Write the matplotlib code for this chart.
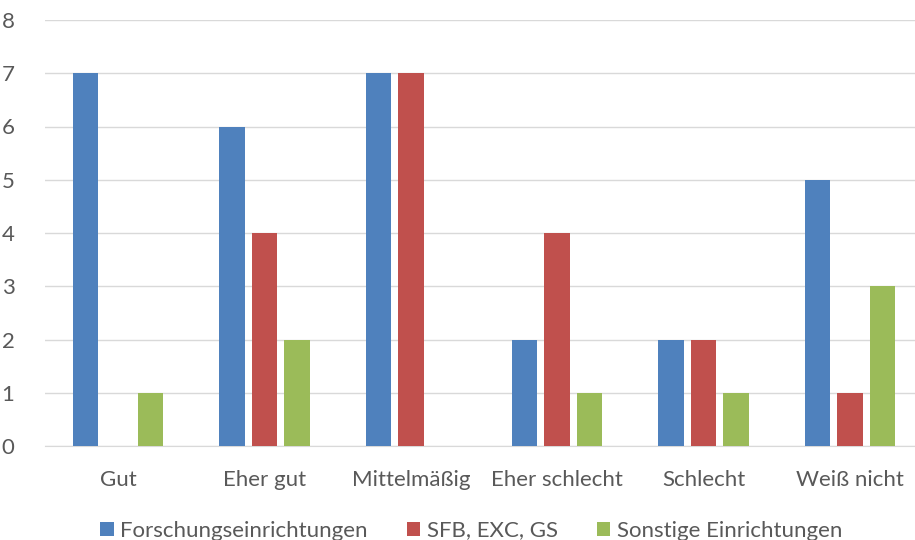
import matplotlib.pyplot as plt
import numpy as np

categories = ['Gut', 'Eher gut', 'Mittelmäßig', 'Eher schlecht', 'Schlecht', 'Weiß nicht']
forschung = [7, 6, 7, 2, 2, 5]
sfb = [0, 4, 7, 4, 2, 1]
sonstige = [1, 2, 0, 1, 1, 3]
series_names = ['Forschungseinrichtungen', 'SFB, EXC, GS', 'Sonstige Einrichtungen']
colors = ['#4F81BD', '#C0504D', '#9BBB59']

plt.rcParams['font.family'] = ['Lato', 'DejaVu Sans']
text_color = '#595959'

fig = plt.figure(figsize=(9.15, 5.4), dpi=100)
ax = fig.add_axes([45 / 915, 1 - 446 / 540, 878 / 915, 426 / 540])

x = np.arange(len(categories))
w = 0.175
step = 0.222
for i, (vals, name) in enumerate(zip([forschung, sfb, sonstige], series_names)):
    ax.bar(x + (i - 1) * step, vals, width=w, color=colors[i], label=name, zorder=3)

ax.set_xlim(-0.5, len(categories) - 0.5)
ax.set_ylim(0, 8)
ax.set_yticks(range(0, 9))
ax.yaxis.grid(True, color='#D9D9D9', linewidth=1, zorder=0)
ax.set_xticks(x)
ax.set_xticklabels(categories)
ax.tick_params(axis='both', length=0, labelsize=16, colors=text_color)
ax.tick_params(axis='x', pad=17)
ax.tick_params(axis='y', pad=22)
for s in ['top', 'right', 'left']:
    ax.spines[s].set_visible(False)
ax.spines['bottom'].set_color('#D9D9D9')

leg = fig.legend(loc='lower center', bbox_to_anchor=(0.515, -0.038), ncol=3, frameon=False,
                 fontsize=16, handlelength=0.6, handleheight=0.6, handletextpad=0.3,
                 columnspacing=1.75)
for t in leg.get_texts():
    t.set_color(text_color)

fig.savefig('out.png', dpi=100)
